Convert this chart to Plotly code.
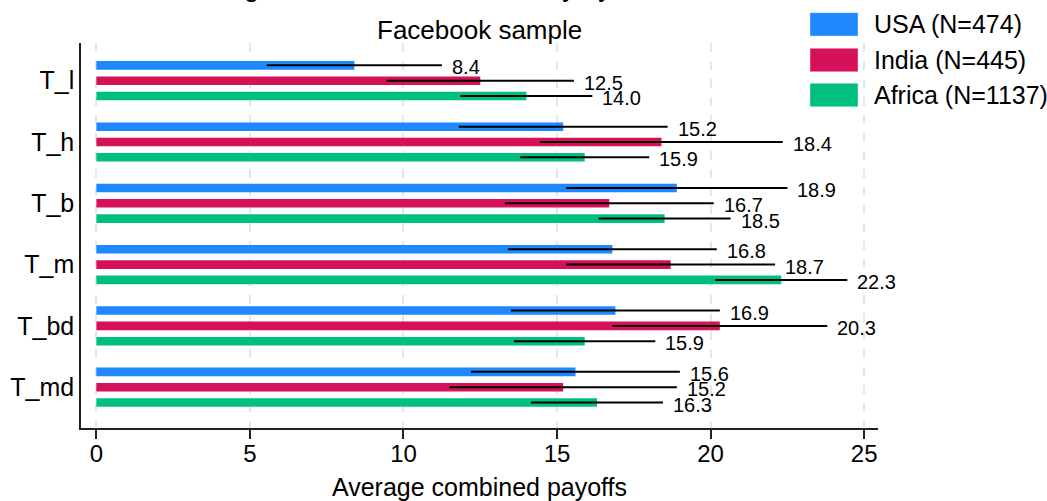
import plotly.graph_objects as go

# Treatments (top to bottom) and per-country averages with CI half-widths
categories = ["T_l", "T_h", "T_b", "T_m", "T_bd", "T_md"]

usa_mean = [8.4, 15.2, 18.9, 16.8, 16.9, 15.6]
india_mean = [12.5, 18.4, 16.7, 18.7, 20.3, 15.2]
africa_mean = [14.0, 15.9, 18.5, 22.3, 15.9, 16.3]

usa_ci = [2.85, 3.4, 3.6, 3.4, 3.4, 3.4]
india_ci = [3.05, 3.95, 3.4, 3.4, 3.5, 3.7]
africa_ci = [2.15, 2.1, 2.15, 2.15, 2.3, 2.15]

series_names = ["USA (N=474)", "India (N=445)", "Africa (N=1137)"]
colors = ["#1E88FF", "#D41159", "#00BF7F"]

FONT = "Liberation Sans, Arial, Helvetica, sans-serif"

series = [
    (series_names[0], usa_mean, usa_ci, colors[0]),
    (series_names[1], india_mean, india_ci, colors[1]),
    (series_names[2], africa_mean, africa_ci, colors[2]),
]

fig = go.Figure()

step = 0.25      # vertical spacing between bars inside a group
bar_w = 0.14

annotations = []
for k, (name, means, cis, col) in enumerate(series):
    ypos = [i + (k - 1) * step for i in range(len(categories))]
    fig.add_trace(go.Bar(
        x=means, y=ypos, orientation="h", width=bar_w, name=name,
        marker=dict(color=col, line=dict(width=0)),
        error_x=dict(type="data", array=cis, color="black", thickness=2, width=0),
        showlegend=False,
        hovertemplate=name + ": %{x:.1f}<extra></extra>",
    ))
    # value label placed just past the upper end of the CI
    for m, c, y in zip(means, cis, ypos):
        annotations.append(dict(
            x=m + c, y=y, xref="x", yref="y", text=f"{m:.1f}", showarrow=False,
            xanchor="left", yanchor="middle", xshift=8, yshift=-2,
            font=dict(family=FONT, size=20, color="black"),
        ))

# Legend drawn as large swatches with labels to the right of the plot
legend_rows = [(1.0787, 1.0182), (0.9862, 0.9255), (0.8953, 0.8345)]
shapes = []
for (name, _, _, col), (ytop, ybot) in zip(series, legend_rows):
    shapes.append(dict(type="rect", xref="paper", yref="paper",
                       x0=0.9147, x1=0.9749, y0=ybot, y1=ytop,
                       fillcolor=col, line=dict(width=0.6, color="rgba(255,255,255,0.6)")))
    annotations.append(dict(xref="paper", yref="paper", x=0.9925, y=(ytop + ybot) / 2,
                            xanchor="left", yanchor="middle", text=name, showarrow=False,
                            font=dict(family=FONT, size=25, color="black")))

# Main title (runs off the top edge) and subtitle
annotations.append(dict(xref="paper", yref="paper", x=0.468, y=1.146,
                        xanchor="center", yanchor="middle",
                        text="Average outcome in each country by treatment",
                        showarrow=False, font=dict(family=FONT, size=27, color="black")))
annotations.append(dict(xref="paper", yref="paper", x=0.5, y=1.035,
                        xanchor="center", yanchor="middle", text="Facebook sample",
                        showarrow=False, font=dict(family=FONT, size=26, color="black")))

fig.update_layout(
    width=1047, height=501,
    margin=dict(l=81, r=169, t=43, b=73),
    paper_bgcolor="white", plot_bgcolor="white",
    font=dict(family=FONT, size=25, color="black"),
    shapes=shapes, annotations=annotations,
    showlegend=False,
)

fig.update_xaxes(
    range=[-0.5, 25.45], tickvals=[0, 5, 10, 15, 20, 25],
    showgrid=True, gridcolor="#E6E6E6", gridwidth=2, griddash="dash",
    zeroline=False, showline=True, linecolor="#222222", linewidth=1.5,
    ticks="outside", ticklen=9, tickwidth=1.5, tickcolor="#222222",
    ticklabelstandoff=-6, automargin=False,
    tickfont=dict(family=FONT, size=24, color="black"),
    title=dict(text="Average combined payoffs", standoff=22,
               font=dict(family=FONT, size=25, color="black")),
)

fig.update_yaxes(
    range=[5.666, -0.615], tickvals=list(range(len(categories))), ticktext=categories,
    showgrid=False, zeroline=False, showline=True, linecolor="#222222", linewidth=1.5,
    ticks="", ticklabelstandoff=0, automargin=False,
    tickfont=dict(family=FONT, size=25, color="black"),
)

fig.write_html("out.html")
